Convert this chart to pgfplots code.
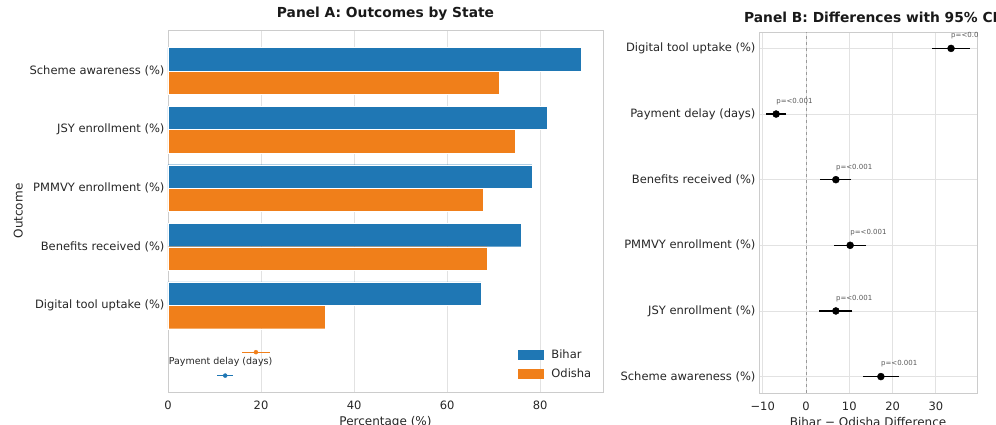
\documentclass[border=0pt]{standalone}
\usepackage{fontspec}
\setmainfont{DejaVu Sans}
\usepackage{pgfplots}
\pgfplotsset{compat=1.18}
\definecolor{cbihar}{HTML}{1F77B4}
\definecolor{codisha}{HTML}{F07F1A}
\definecolor{gridc}{HTML}{E2E2E2}
\definecolor{spinec}{HTML}{CCCCCC}
\definecolor{txt}{HTML}{262626}
\pgfplotsset{
  mystyle/.style={
    scale only axis,
    axis line style={spinec, line width=0.8pt},
    grid style={gridc, line width=0.8pt},
    major tick length=0pt,
    tick label style={font=\fontsize{11.5}{12}\selectfont, text=txt},
    xticklabel style={yshift=-5pt},
    label style={font=\fontsize{12}{13}\selectfont, text=txt},
    title style={font=\bfseries\fontsize{13.8}{15}\selectfont, text=black!90},
    /pgf/number format/assume math mode=true,
  }
}
\begin{document}
\begin{tikzpicture}
% Panel A
\begin{axis}[mystyle, at={(168pt,33pt)}, anchor=south west, width=435pt, height=362pt,
  xmin=0, xmax=93.5, ymin=-0.7, ymax=5.48, y dir=reverse,
  xtick={0,20,40,60,80}, xmajorgrids,
  ytick={0,1,2,3,4},
  yticklabels={Scheme awareness (\%), JSY enrollment (\%), PMMVY enrollment (\%), Benefits received (\%), Digital tool uptake (\%)},
  xlabel={Percentage (\%)}, ylabel={Outcome},
  title={Panel A: Outcomes by State},
  legend style={at={(0.985,0.025)}, anchor=south east, draw=none, fill=none,
    font=\fontsize{11.5}{12}\selectfont, text=txt, row sep=5pt},
  legend cell align=left,
]
\addplot[xbar, bar width=0.4, bar shift=0pt, fill=cbihar, draw=white, line width=0.3pt,
  legend image code/.code={\fill[cbihar] (0pt,-4.5pt) rectangle (25pt,4.5pt); \path (31pt,0pt);}]
  coordinates {(88.8,-0.2) (81.6,0.8) (78.2,1.8) (75.9,2.8) (67.3,3.8)};
\addlegendentry{Bihar}
\addplot[xbar, bar width=0.4, bar shift=0pt, fill=codisha, draw=white, line width=0.3pt,
  legend image code/.code={\fill[codisha] (0pt,-4.5pt) rectangle (25pt,4.5pt); \path (31pt,0pt);}]
  coordinates {(71.2,0.2) (74.6,1.2) (67.7,2.2) (68.6,3.2) (33.8,4.2)};
\addlegendentry{Odisha}
\addplot[forget plot, only marks, mark=*, mark size=2pt, codisha,
  error bars/.cd, x dir=both, x explicit, error bar style={line width=1pt, codisha}, error mark=none]
  coordinates {(18.9,4.8) +- (3.0,0)};
\addplot[forget plot, only marks, mark=*, mark size=2pt, cbihar,
  error bars/.cd, x dir=both, x explicit, error bar style={line width=1pt, cbihar}, error mark=none]
  coordinates {(12.3,5.2) +- (1.7,0)};
\node[font=\fontsize{9.5}{10}\selectfont, text=txt] at (axis cs:11.3,4.96) {Payment delay (days)};
\end{axis}
% Panel B
\begin{axis}[mystyle, at={(759pt,32pt)}, anchor=south west, width=218pt, height=361pt,
  xmin=-10.85, xmax=39.5, ymin=-0.25, ymax=5.25,
  xtick={-10,0,10,20,30}, xticklabels={−10,0,10,20,30},
  ytick={0,1,2,3,4,5},
  yticklabels={Scheme awareness (\%), JSY enrollment (\%), PMMVY enrollment (\%), Benefits received (\%), Payment delay (days), Digital tool uptake (\%)},
  grid=major,
  xlabel={Bihar − Odisha Difference},
  title={Panel B: Differences with 95\% CI},
  title style={xshift=3pt},
]
\addplot[gray!80, dashed, line width=0.8pt] coordinates {(0,-0.25) (0,5.25)};
\addplot[only marks, mark=*, mark size=3.5pt, black,
  error bars/.cd, x dir=both, x explicit, error bar style={line width=1.3pt, black},
  error mark options={mark size=3pt, line width=1.3pt, black}]
  coordinates {
  (17.3,0) +- (3.4,0)
  (6.9,1) +- (3.1,0)
  (10.2,2) +- (3.0,0)
  (6.9,3) +- (2.9,0)
  (-6.9,4) +- (1.6,0)
  (33.5,5) +- (3.6,0)
  };
\begin{scope}[every node/.style={anchor=west, inner sep=0pt, font=\fontsize{7}{8}\selectfont, text=black!65}]
\node at (axis cs:17.3,0.19) {p=<0.001};
\node at (axis cs:6.9,1.19) {p=<0.001};
\node at (axis cs:10.2,2.19) {p=<0.001};
\node at (axis cs:6.9,3.19) {p=<0.001};
\node at (axis cs:-6.9,4.19) {p=<0.001};
\node at (axis cs:33.5,5.19) {p=<0.001};
\end{scope}
\end{axis}
\pgfresetboundingbox
\path[use as bounding box] (0pt,0pt) rectangle (996pt,425pt);
\end{tikzpicture}
\end{document}
